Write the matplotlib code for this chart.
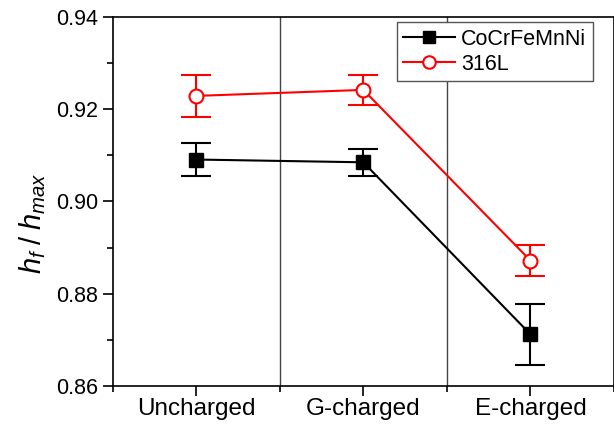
import matplotlib
matplotlib.use("Agg")
import matplotlib.pyplot as plt
from matplotlib.ticker import MultipleLocator, FixedLocator
from matplotlib.lines import Line2D

plt.rcParams['font.family'] = ['Liberation Sans', 'DejaVu Sans']
plt.rcParams['mathtext.fontset'] = 'custom'
plt.rcParams['mathtext.it'] = 'Liberation Sans:italic'
plt.rcParams['mathtext.rm'] = 'Liberation Sans'

categories = ["Uncharged", "G-charged", "E-charged"]
hea_vals = [0.9091, 0.9085, 0.8712]
hea_err = [0.0036, 0.0029, 0.0066]
ss_vals = [0.9229, 0.9242, 0.8872]
ss_err = [0.0045, 0.0032, 0.0034]

fig = plt.figure(figsize=(6.14, 4.26), dpi=100)
ax = fig.add_axes([0.1835, 0.094, 0.8165, 0.866])

x = list(range(1, len(categories) + 1))
ax.errorbar(x, hea_vals, yerr=hea_err, color='black', marker='s', markersize=10,
            linewidth=1.5, elinewidth=1.5, capsize=10.5, capthick=1.5,
            markerfacecolor='black', markeredgecolor='black', zorder=3)
ax.errorbar(x, ss_vals, yerr=ss_err, color='#ff0000', marker='o', markersize=10,
            linewidth=1.5, elinewidth=1.5, capsize=10.5, capthick=1.5,
            markerfacecolor='white', markeredgecolor='#ff0000', markeredgewidth=1.5,
            zorder=3)

for xv in [1.5, 2.5]:
    ax.axvline(xv, color='#444444', linewidth=1.0, zorder=1)

ax.set_xlim(0.5, 3.5)
ax.set_ylim(0.86, 0.94)
ax.set_xticks(x)
ax.set_xticklabels(categories, fontsize=17.5)
ax.xaxis.set_minor_locator(FixedLocator([0.5, 1.5, 2.5, 3.5]))
ax.yaxis.set_major_locator(MultipleLocator(0.02))
ax.yaxis.set_minor_locator(MultipleLocator(0.01))
ax.yaxis.set_major_formatter(matplotlib.ticker.FormatStrFormatter('%.2f'))
ax.tick_params(axis='y', labelsize=15.5)
ax.tick_params(which='major', direction='out', length=7, width=1.2)
ax.tick_params(which='minor', direction='out', length=4, width=1.2)
ax.tick_params(axis='x', pad=2)
for s in ax.spines.values():
    s.set_linewidth(1.2)

ax.set_ylabel(r'$h_f\;/\;h_{max}$', fontsize=21)
ax.yaxis.set_label_coords(-0.128, 0.44)

handles = [
    Line2D([], [], color='black', marker='s', markersize=9, linewidth=1.5),
    Line2D([], [], color='#ff0000', marker='o', markersize=9, linewidth=1.5,
           markerfacecolor='white', markeredgewidth=1.5),
]
leg = ax.legend(handles, ['CoCrFeMnNi', '316L'], loc='upper right',
                bbox_to_anchor=(0.958, 0.986), borderaxespad=0, fontsize=15.5,
                frameon=True, fancybox=False, edgecolor='#555555', framealpha=1,
                handlelength=2.4, borderpad=0.3, labelspacing=0.2, handletextpad=0.3)
leg.get_frame().set_linewidth(1.0)

fig.savefig("out.png", dpi=100)
